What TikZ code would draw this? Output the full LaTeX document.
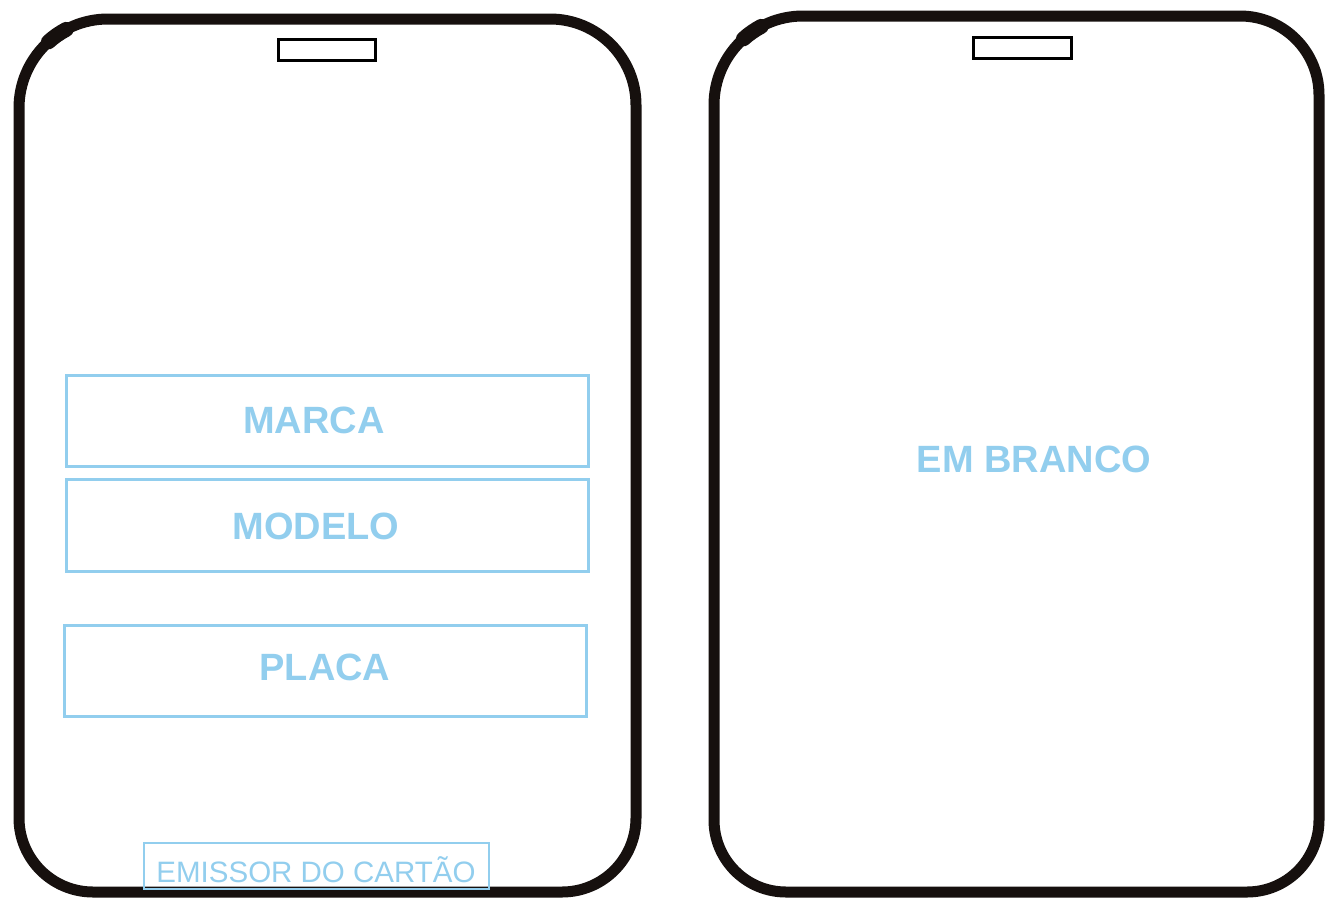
\documentclass[tikz,border=0pt]{standalone}
\usepackage{fontspec}
\setmainfont{Liberation Sans}
\definecolor{lblue}{RGB}{146,206,238}
\definecolor{ink}{RGB}{22,16,14}
\begin{document}
\begin{tikzpicture}[x=1pt,y=-1pt,
  card/.style={draw=ink,line width=11pt,line join=round},
  blob/.style={draw=ink,line width=15pt,line cap=round},
  slot/.style={draw=black,line width=2.6pt},
  field/.style={draw=lblue,line width=3pt},
  bigtxt/.style={text=lblue,font=\fontsize{38}{38}\selectfont\bfseries,inner sep=0pt,anchor=base},
  smalltxt/.style={text=lblue,font=\fontsize{29.5}{29.5}\selectfont,inner sep=0pt,anchor=base}]
\useasboundingbox[fill=white] (0,0) rectangle (1325,900);
% left card
\draw[card] (19,108) arc[start angle=180,end angle=270,radius=89] -- (550,19)
  arc[start angle=270,end angle=360,radius=86] -- (636,818)
  arc[start angle=0,end angle=90,radius=74] -- (93,892)
  arc[start angle=90,end angle=180,radius=74] -- cycle;
\draw[blob] (108,108) ++(228:89) arc[start angle=228,end angle=242,radius=89];
% right card
\draw[card] (714,105) arc[start angle=180,end angle=270,radius=89] -- (1240,16)
  arc[start angle=270,end angle=360,radius=79] -- (1319,820)
  arc[start angle=0,end angle=90,radius=72] -- (786,892)
  arc[start angle=90,end angle=180,radius=72] -- cycle;
\draw[blob] (803,105) ++(228:89) arc[start angle=228,end angle=242,radius=89];
% slots
\draw[slot] (278.5,39.5) rectangle (375.5,60.5);
\draw[slot] (973.5,37.5) rectangle (1071.5,58.5);
% fields
\draw[field] (66,375.5) rectangle (588,466);
\draw[field] (66,479.5) rectangle (588,571);
\draw[field] (64,625.5) rectangle (586,716);
\node[bigtxt] (marca) at (314,433) {MARCA};
\node[bigtxt] (modelo) at (316,539.5) {MODELO};
\node[bigtxt] (placa) at (325,680) {PLACA};
\node[bigtxt] (branco) at (1034,472) {EM BRANCO};
% emissor
\draw[draw=lblue,line width=1.6pt] (144,843) rectangle (489,889);
\node[smalltxt] (emissor) at (316,882) {EMISSOR DO CARTÃO};
\end{tikzpicture}
\end{document}
